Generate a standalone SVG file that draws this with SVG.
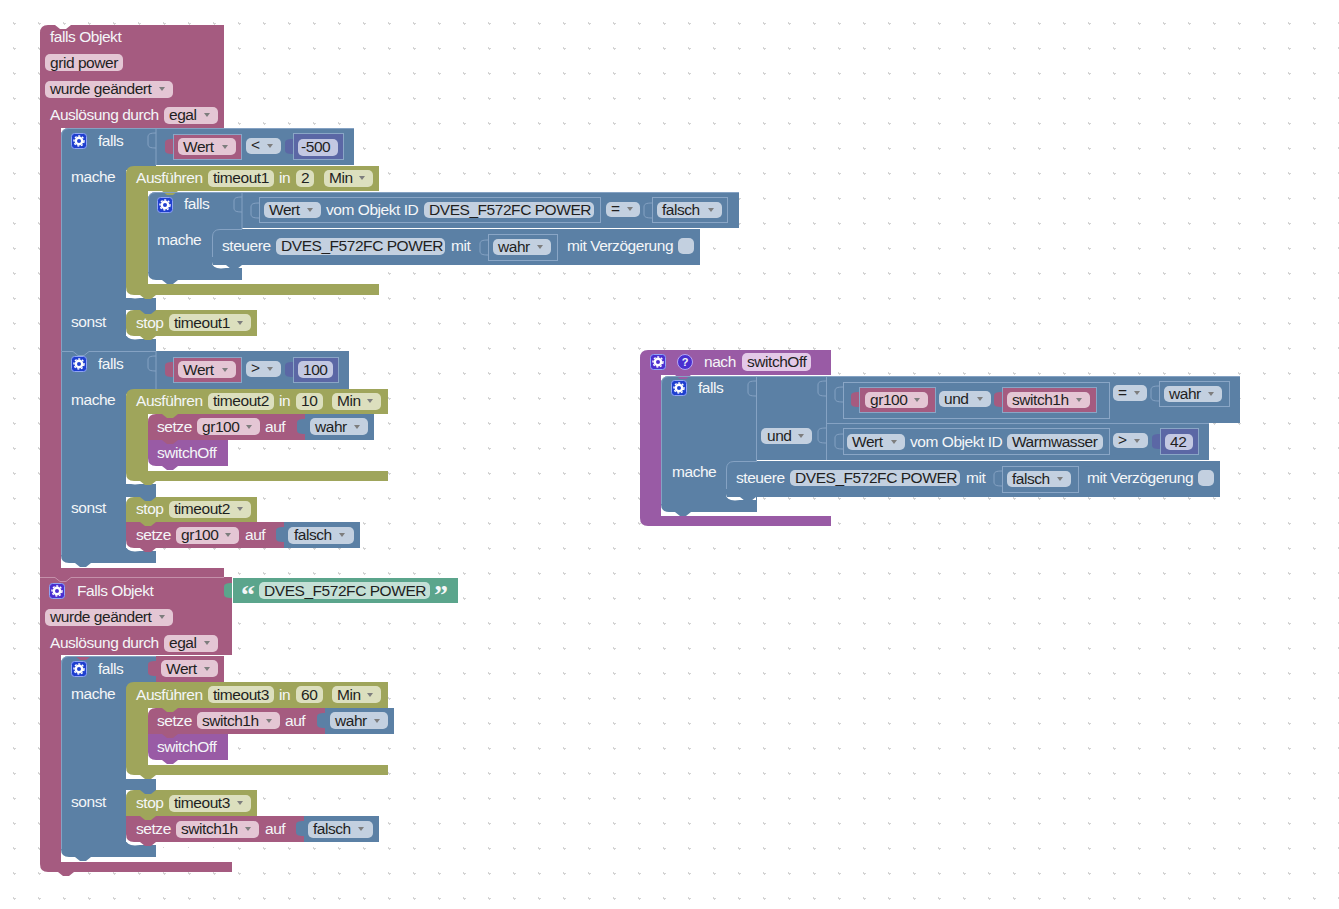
<svg xmlns="http://www.w3.org/2000/svg" width="1339" height="909" viewBox="0 0 1339 909">
<style>
text{font-family:"Liberation Sans",Arial,sans-serif;font-size:15.5px;letter-spacing:-0.45px}
.w{fill:#f4f6f8}.d{fill:#1f1f1f}
.p{fill:#a55b80}.b{fill:#5b80a5}.o{fill:#9fa55b}.u{fill:#995ba5}.g{fill:#5ba58c}.v{fill:#5b67a5}.wh{fill:#fff}
.fp{fill:#e4c6d4}.fb{fill:#c3d0e0}.fo{fill:#dcdfbe}.fu{fill:#e3c9e8}.fg{fill:#c4e0d6}.fv{fill:#c3c8e2}
.ob{fill:#5b80a5;stroke:#8aa6c6}.op{fill:#a55b80;stroke:#8aa6c6}.ov{fill:#5b67a5;stroke:#8aa6c6}
.ln{fill:none;stroke:#85a2c3;stroke-width:1}
.lp{fill:none;stroke:#c490aa;stroke-width:1}
.q{font-family:"Liberation Serif",serif;font-size:28px;font-weight:bold;fill:#f4f6f8}
</style>
<defs>
<pattern id="grid" x="14" y="23" width="25" height="25" patternUnits="userSpaceOnUse">
<path d="M0 0.5h2M0.5 0v2" stroke="#d4d4d4" fill="none"/>
<path d="M24 0.5h1M24.500 24v1M24 24.500h1" stroke="#d4d4d4" fill="none"/>
</pattern>
<path id="dd" d="M0 0h6l-3 4z" fill="#7d7d7d"/>
<path id="tab" d="M0 0l5 4h6l5-4z"/>
<path id="puz" d="M8 0C2 0 0 1 0 4V11C0 14 2 15 8 15Z"/>
<path id="puzl" d="M8 0C2 0 0 1 0 4V11C0 14 2 15 8 15" fill="none" stroke="#85a2c3"/>
<path id="cres" class="wh" d="M0 -10V-3Q0 5 14 3H30V0H0Z"/>
<g id="gear">
<rect x="0.5" y="0.5" width="15" height="15" rx="3" stroke="#8fa4f5"/>
<circle cx="8" cy="8" r="3.2" fill="none" stroke="#fff" stroke-width="2.4"/>
<circle cx="8" cy="8" r="5" fill="none" stroke="#fff" stroke-width="1.4" stroke-dasharray="2 1.7"/>
</g>
</defs>
<rect width="1339" height="909" fill="#fff"/>
<rect width="1339" height="909" fill="url(#grid)"/>

<g id="trigger-grid-power">
<path class="p" d="M48 25H55L60 29H66L71 25H224V128H61V568H224V577H40V33Q40 25 48 25Z"/>
<text class="w" x="50" y="42">falls Objekt</text>
<rect class="fp" x="45" y="54" width="78" height="17" rx="5"/><text class="d" x="50" y="68">grid power</text>
<rect class="fp" x="45" y="81" width="128" height="17" rx="5"/><text class="d" x="50" y="94">wurde geändert</text><use href="#dd" x="159" y="87"/>
<text class="w" x="50" y="120">Auslösung durch</text>
<rect class="fp" x="164" y="107" width="54" height="17" rx="5"/><text class="d" x="169" y="120">egal</text><use href="#dd" x="204" y="113"/>
<rect class="wh" x="61" y="555" width="163" height="13"/>
</g>

<g id="if-lt-500">
<path class="b" d="M69 128H354V165H156V170H126V298H156V310H126V336H156V351H61V136Q61 128 69 128Z"/>
<path class="ln" d="M61.500 351V136Q61.500 128.500 69 128.500H354M156 128V165"/><use href="#puzl" x="148" y="133"/>
<use href="#gear" x="71" y="133" fill="#1f3fcf"/><text class="w" x="98" y="146">falls</text>
<text class="w" x="71" y="182">mache</text><text class="w" x="71" y="327">sonst</text>
<use href="#puz" class="p" x="165" y="139"/><rect class="op" x="173.500" y="134.500" width="68" height="25"/>
<rect class="fp" x="178" y="138" width="58" height="17" rx="5"/><text class="d" x="183" y="152">Wert</text><use href="#dd" x="222" y="145"/>
<rect class="fb" x="246" y="138" width="35" height="16" rx="5"/><text class="d" x="251" y="150">&lt;</text><use href="#dd" x="267" y="144"/>
<use href="#puz" class="v" x="285" y="139"/><rect class="ov" x="293.500" y="133.500" width="50" height="26"/>
<rect class="fv" x="298" y="139" width="40" height="17" rx="5"/><text class="d" x="301" y="152">-500</text>
<use href="#cres" x="126" y="295"/><use href="#cres" x="126" y="336"/>
</g>

<g id="timeout1">
<path class="o" d="M134 166H379V191H148V284H379V295H134Q126 295 126 287V174Q126 166 134 166Z"/>
<use href="#tab" class="o" x="140" y="295"/>
<text class="w" x="136" y="183">Ausführen</text>
<rect class="fo" x="208" y="170" width="66" height="17" rx="5"/><text class="d" x="213" y="183">timeout1</text>
<text class="w" x="279" y="183">in</text>
<rect class="fo" x="296" y="170" width="18" height="17" rx="5"/><text class="d" x="301" y="183">2</text>
<rect class="fo" x="324" y="170" width="49" height="17" rx="5"/><text class="d" x="329" y="183">Min</text><use href="#dd" x="359" y="176"/>
<rect class="wh" x="148" y="272" width="231" height="12"/>
</g>

<g id="if-power-false">
<path class="b" d="M156 192H739V228H242V280H156Q148 280 148 272V200Q148 192 156 192Z"/>
<use href="#tab" class="o" x="162" y="191"/>
<use href="#tab" class="b" x="162" y="280"/>
<use href="#gear" x="157" y="197" fill="#1f3fcf"/><text class="w" x="184" y="209">falls</text>
<text class="w" x="157" y="245">mache</text>
<path class="ln" d="M148.500 272V200Q148.500 192.500 156 192.500H739M242 192V229"/><use href="#puzl" x="234" y="197"/>
<use href="#puzl" x="251" y="203"/><rect class="ob" x="259.500" y="197.500" width="341" height="25"/>
<rect class="fb" x="264" y="202" width="57" height="16" rx="5"/><text class="d" x="269" y="215">Wert</text><use href="#dd" x="307" y="208"/>
<text class="w" x="326" y="215">vom Objekt ID</text>
<rect class="fb" x="424" y="202" width="170" height="16" rx="5"/><text class="d" x="429" y="215">DVES_F572FC POWER</text>
<rect class="fb" x="606" y="202" width="34" height="15" rx="5"/><text class="d" x="611" y="214">=</text><use href="#dd" x="627" y="207"/>
<use href="#puzl" x="644" y="203"/><rect class="ob" x="652.500" y="197.500" width="75" height="25"/>
<rect class="fb" x="657" y="202" width="65" height="16" rx="5"/><text class="d" x="662" y="215">falsch</text><use href="#dd" x="708" y="208"/>
<use href="#cres" x="212" y="265"/>
</g>

<g id="control-power-true">
<path class="b" d="M220 229H700V265H220Q212 265 212 257V237Q212 229 220 229Z"/>
<use href="#tab" class="b" x="226" y="265"/>
<path class="ln" d="M212.500 257V237Q212.500 229.500 220 229.500H242"/>
<text class="w" x="222" y="251">steuere</text>
<rect class="fb" x="276" y="238" width="169" height="17" rx="5"/><text class="d" x="281" y="251">DVES_F572FC POWER</text>
<text class="w" x="451" y="251">mit</text>
<use href="#puzl" x="480" y="240"/><rect class="ob" x="488.500" y="234.500" width="69" height="26"/>
<rect class="fb" x="493" y="239" width="58" height="16" rx="5"/><text class="d" x="498" y="252">wahr</text><use href="#dd" x="537" y="245"/>
<text class="w" x="567" y="251">mit Verzögerung</text>
<rect class="fb" x="678" y="238" width="16" height="16" rx="5"/>
</g>

<g id="stop-timeout1">
<path class="o" d="M134 310H257V336H134Q126 336 126 328V318Q126 310 134 310Z"/>
<use href="#tab" class="b" x="140" y="310"/><use href="#tab" class="o" x="140" y="336"/>
<text class="w" x="136" y="328">stop</text>
<rect class="fo" x="169" y="314" width="82" height="17" rx="5"/><text class="d" x="174" y="328">timeout1</text><use href="#dd" x="237" y="321"/>
</g>

<g id="if-gt-100">
<path class="b" d="M61 351H349V389H156V394H126V484H156V497H126V548H156V563H69Q61 563 61 555Z"/>
<path class="ln" d="M61.500 555V351.500H73l5 4h6l5-4H156M156 351V389"/><use href="#puzl" x="148" y="356"/>
<use href="#tab" class="b" x="75" y="563"/>
<use href="#gear" x="71" y="356" fill="#1f3fcf"/><text class="w" x="98" y="369">falls</text>
<text class="w" x="71" y="405">mache</text><text class="w" x="71" y="513">sonst</text>
<use href="#puz" class="p" x="165" y="362"/><rect class="op" x="173.500" y="357.500" width="68" height="25"/>
<rect class="fp" x="178" y="361" width="58" height="17" rx="5"/><text class="d" x="183" y="375">Wert</text><use href="#dd" x="222" y="368"/>
<rect class="fb" x="246" y="361" width="35" height="16" rx="5"/><text class="d" x="251" y="373">&gt;</text><use href="#dd" x="267" y="367"/>
<use href="#puz" class="v" x="285" y="362"/><rect class="ov" x="293.500" y="357.500" width="45" height="25"/>
<rect class="fv" x="298" y="361" width="35" height="17" rx="5"/><text class="d" x="303" y="375">100</text>
<use href="#cres" x="126" y="481"/><use href="#cres" x="126" y="548"/>
</g>

<g id="timeout2">
<path class="o" d="M134 389H388V414H148V471H388V481H134Q126 481 126 473V397Q126 389 134 389Z"/>
<use href="#tab" class="o" x="140" y="481"/>
<text class="w" x="136" y="406">Ausführen</text>
<rect class="fo" x="208" y="393" width="66" height="17" rx="5"/><text class="d" x="213" y="406">timeout2</text>
<text class="w" x="279" y="406">in</text>
<rect class="fo" x="296" y="393" width="27" height="17" rx="5"/><text class="d" x="301" y="406">10</text>
<rect class="fo" x="332" y="393" width="49" height="17" rx="5"/><text class="d" x="337" y="406">Min</text><use href="#dd" x="367" y="399"/>
<rect class="wh" x="148" y="458" width="240" height="13"/>
</g>

<g id="set-gr100-true">
<path class="p" d="M156 414H305V440H148V422Q148 414 156 414Z"/>
<path class="b" d="M305 414H374V440H305Z"/><use href="#puz" class="b" x="297" y="419"/>
<use href="#tab" class="o" x="162" y="414"/>
<text class="w" x="157" y="432">setze</text>
<rect class="fp" x="197" y="418" width="63" height="17" rx="5"/><text class="d" x="202" y="432">gr100</text><use href="#dd" x="246" y="425"/>
<text class="w" x="265" y="432">auf</text>
<rect class="fb" x="310" y="418" width="58" height="17" rx="5"/><text class="d" x="315" y="432">wahr</text><use href="#dd" x="354" y="425"/>
</g>
<g id="call-switchoff-1">
<path class="u" d="M148 440H228V466H156Q148 466 148 458Z"/>
<use href="#tab" class="p" x="162" y="440"/><use href="#tab" class="u" x="162" y="466"/>
<text class="w" x="157" y="458">switchOff</text>
</g>

<g id="stop-timeout2">
<path class="p" d="M126 522H284V548H134Q126 548 126 540Z"/>
<path class="o" d="M134 497H257V522H126V505Q126 497 134 497Z"/>
<use href="#tab" class="b" x="140" y="497"/><use href="#tab" class="o" x="140" y="522"/><use href="#tab" class="p" x="140" y="548"/>
<text class="w" x="136" y="514">stop</text>
<rect class="fo" x="169" y="501" width="82" height="17" rx="5"/><text class="d" x="174" y="514">timeout2</text><use href="#dd" x="237" y="507"/>
</g>
<g id="set-gr100-false">
<path class="b" d="M284 522H360V548H284Z"/><use href="#puz" class="b" x="276" y="527"/>
<text class="w" x="136" y="540">setze</text>
<rect class="fp" x="176" y="527" width="63" height="17" rx="5"/><text class="d" x="181" y="540">gr100</text><use href="#dd" x="225" y="533"/>
<text class="w" x="245" y="540">auf</text>
<rect class="fb" x="288" y="527" width="66" height="17" rx="5"/><text class="d" x="294" y="540">falsch</text><use href="#dd" x="339" y="533"/>
</g>

<g id="trigger-power">
<path class="p" d="M40 577H232V655H61V862H232V872H48Q40 872 40 864Z"/>
<use href="#tab" class="p" x="58" y="872"/>
<path class="lp" d="M40 577.500H55l5 4h6l5-4H224"/>
<use href="#gear" x="49" y="583" fill="#4a2fd0"/><text class="w" x="77" y="596">Falls Objekt</text>
<rect class="fp" x="45" y="609" width="128" height="17" rx="5"/><text class="d" x="50" y="622">wurde geändert</text><use href="#dd" x="159" y="615"/>
<text class="w" x="50" y="648">Auslösung durch</text>
<rect class="fp" x="164" y="635" width="54" height="17" rx="5"/><text class="d" x="169" y="648">egal</text><use href="#dd" x="204" y="641"/>
<rect class="wh" x="61" y="848" width="171" height="14"/>
</g>
<g id="text-power">
<path class="g" d="M233 578H458V603H233Z"/><use href="#puz" class="g" x="224" y="583"/>
<text class="q" x="241" y="604">“</text>
<rect class="fg" x="259" y="582" width="171" height="17" rx="5"/><text class="d" x="264" y="596">DVES_F572FC POWER</text>
<text class="q" x="434" y="604">”</text>
</g>

<g id="if-wert">
<path class="b" d="M69 656H156V690H126V779H156V790H126V842H156V857H69Q61 857 61 849V664Q61 656 69 656Z"/>
<use href="#tab" class="b" x="75" y="857"/>
<use href="#tab" class="p" x="75" y="656"/>
<path class="ln" d="M61.500 849V664Q61.500 656.500 69 656.500H156"/>
<use href="#gear" x="71" y="661" fill="#1f3fcf"/><text class="w" x="98" y="674">falls</text>
<text class="w" x="71" y="699">mache</text><text class="w" x="71" y="807">sonst</text>
<path class="p" d="M156 656H224V682H156Z"/><use href="#puz" class="p" x="148" y="661"/>
<rect class="fp" x="161" y="660" width="57" height="17" rx="5"/><text class="d" x="166" y="674">Wert</text><use href="#dd" x="204" y="667"/>
<use href="#cres" x="126" y="775"/><use href="#cres" x="126" y="842"/>
</g>

<g id="timeout3">
<path class="o" d="M134 682H388V708H148V765H388V775H134Q126 775 126 767V690Q126 682 134 682Z"/>
<use href="#tab" class="o" x="140" y="775"/>
<text class="w" x="136" y="700">Ausführen</text>
<rect class="fo" x="208" y="686" width="66" height="17" rx="5"/><text class="d" x="213" y="700">timeout3</text>
<text class="w" x="279" y="700">in</text>
<rect class="fo" x="296" y="686" width="27" height="17" rx="5"/><text class="d" x="301" y="700">60</text>
<rect class="fo" x="332" y="686" width="49" height="17" rx="5"/><text class="d" x="337" y="700">Min</text><use href="#dd" x="367" y="693"/>
<rect class="wh" x="148" y="752" width="240" height="13"/>
</g>
<g id="set-switch1h-true">
<path class="p" d="M156 708H325V734H148V716Q148 708 156 708Z"/>
<path class="b" d="M325 708H394V734H325Z"/><use href="#puz" class="b" x="317" y="713"/>
<use href="#tab" class="o" x="162" y="708"/>
<text class="w" x="157" y="726">setze</text>
<rect class="fp" x="197" y="712" width="83" height="17" rx="5"/><text class="d" x="202" y="726">switch1h</text><use href="#dd" x="266" y="719"/>
<text class="w" x="285" y="726">auf</text>
<rect class="fb" x="330" y="712" width="58" height="17" rx="5"/><text class="d" x="335" y="726">wahr</text><use href="#dd" x="374" y="719"/>
</g>
<g id="call-switchoff-2">
<path class="u" d="M148 734H228V760H156Q148 760 148 752Z"/>
<use href="#tab" class="p" x="162" y="734"/><use href="#tab" class="u" x="162" y="760"/>
<text class="w" x="157" y="752">switchOff</text>
</g>
<g id="stop-timeout3">
<path class="p" d="M126 816H304V842H134Q126 842 126 834Z"/>
<path class="o" d="M134 790H257V816H126V798Q126 790 134 790Z"/>
<use href="#tab" class="b" x="140" y="790"/><use href="#tab" class="o" x="140" y="816"/><use href="#tab" class="p" x="140" y="842"/>
<text class="w" x="136" y="808">stop</text>
<rect class="fo" x="169" y="795" width="82" height="17" rx="5"/><text class="d" x="174" y="808">timeout3</text><use href="#dd" x="237" y="801"/>
</g>
<g id="set-switch1h-false">
<path class="b" d="M304 816H379V842H304Z"/><use href="#puz" class="b" x="296" y="821"/>
<text class="w" x="136" y="834">setze</text>
<rect class="fp" x="176" y="821" width="83" height="17" rx="5"/><text class="d" x="181" y="834">switch1h</text><use href="#dd" x="245" y="827"/>
<text class="w" x="265" y="834">auf</text>
<rect class="fb" x="308" y="821" width="65" height="17" rx="5"/><text class="d" x="313" y="834">falsch</text><use href="#dd" x="358" y="827"/>
</g>

<g id="function-switchoff">
<path class="u" d="M648 350H831V375H661V516H831V526H648Q640 526 640 518V358Q640 350 648 350Z"/>
<use href="#gear" x="650" y="354" fill="#4a2fd0"/>
<circle cx="685" cy="362" r="7.500" fill="#4a2fd0" stroke="#b5a8f5"/><text x="685" y="366" text-anchor="middle" class="w" style="font-size:11px;font-weight:bold">?</text>
<text class="w" x="704" y="367">nach</text>
<rect class="fu" x="742" y="353" width="69" height="18" rx="5"/><text class="d" x="747" y="367">switchOff</text>
<rect class="wh" x="661" y="500" width="170" height="16"/>
</g>
<g id="if-and">
<path class="b" d="M669 376H1240V423H1209V460H757V512H669Q661 512 661 504V384Q661 376 669 376Z"/>
<use href="#tab" class="u" x="675" y="375"/><use href="#tab" class="b" x="675" y="512"/>
<use href="#gear" x="671" y="380" fill="#1f3fcf"/><text class="w" x="698" y="393">falls</text>
<text class="w" x="672" y="477">mache</text>
<path class="ln" d="M661.500 504V384Q661.500 376.500 669 376.500H1240M756.500 376V461M826.500 376V460M826 423.500H1209"/>
<use href="#puzl" x="748" y="381"/><use href="#puzl" x="818" y="381"/><use href="#puzl" x="818" y="428"/><use href="#puzl" x="835" y="387"/><use href="#puzl" x="835" y="434"/>
<rect class="ob" x="843.500" y="382.500" width="266" height="36"/>
<use href="#puz" class="p" x="851" y="392"/><rect class="op" x="859.500" y="387.500" width="76" height="25"/>
<rect class="fp" x="865" y="392" width="63" height="16" rx="5"/><text class="d" x="870" y="405">gr100</text><use href="#dd" x="914" y="398"/>
<rect class="fb" x="939" y="391" width="52" height="16" rx="5"/><text class="d" x="944" y="404">und</text><use href="#dd" x="977" y="397"/>
<use href="#puz" class="p" x="994" y="392"/><rect class="op" x="1002.500" y="387.500" width="94" height="25"/>
<rect class="fp" x="1007" y="392" width="83" height="16" rx="5"/><text class="d" x="1012" y="405">switch1h</text><use href="#dd" x="1076" y="398"/>
<rect class="fb" x="1113" y="385" width="34" height="16" rx="5"/><text class="d" x="1118" y="398">=</text><use href="#dd" x="1134" y="391"/>
<use href="#puzl" x="1151" y="386"/><rect class="ob" x="1159.500" y="381.500" width="70" height="25"/>
<rect class="fb" x="1164" y="386" width="58" height="16" rx="5"/><text class="d" x="1169" y="399">wahr</text><use href="#dd" x="1208" y="392"/>
<rect class="fb" x="761" y="428" width="51" height="16" rx="5"/><text class="d" x="767" y="441">und</text><use href="#dd" x="798" y="434"/>
<rect class="ob" x="843.500" y="428.500" width="266" height="26"/>
<rect class="fb" x="847" y="434" width="58" height="16" rx="5"/><text class="d" x="852" y="447">Wert</text><use href="#dd" x="891" y="440"/>
<text class="w" x="910" y="447">vom Objekt ID</text>
<rect class="fb" x="1007" y="434" width="96" height="16" rx="5"/><text class="d" x="1012" y="447">Warmwasser</text>
<rect class="fb" x="1113" y="433" width="35" height="15" rx="5"/><text class="d" x="1118" y="445">&gt;</text><use href="#dd" x="1134" y="439"/>
<use href="#puz" class="v" x="1152" y="434"/><rect class="ov" x="1160.500" y="428.500" width="38" height="26"/>
<rect class="fv" x="1165" y="434" width="28" height="16" rx="5"/><text class="d" x="1170" y="447">42</text>
<use href="#cres" x="726" y="497"/>
</g>
<g id="control-power-false">
<path class="b" d="M734 461H1220V497H734Q726 497 726 489V469Q726 461 734 461Z"/>
<use href="#tab" class="b" x="740" y="497"/>
<path class="ln" d="M726.500 489V469Q726.500 461.500 734 461.500H757"/>
<text class="w" x="736" y="483">steuere</text>
<rect class="fb" x="790" y="470" width="170" height="16" rx="5"/><text class="d" x="795" y="483">DVES_F572FC POWER</text>
<text class="w" x="966" y="483">mit</text>
<use href="#puzl" x="994" y="471"/><rect class="ob" x="1002.500" y="466.500" width="76" height="26"/>
<rect class="fb" x="1007" y="471" width="64" height="16" rx="5"/><text class="d" x="1012" y="484">falsch</text><use href="#dd" x="1057" y="477"/>
<text class="w" x="1087" y="483">mit Verzögerung</text>
<rect class="fb" x="1198" y="470" width="16" height="16" rx="5"/>
</g>
</svg>
